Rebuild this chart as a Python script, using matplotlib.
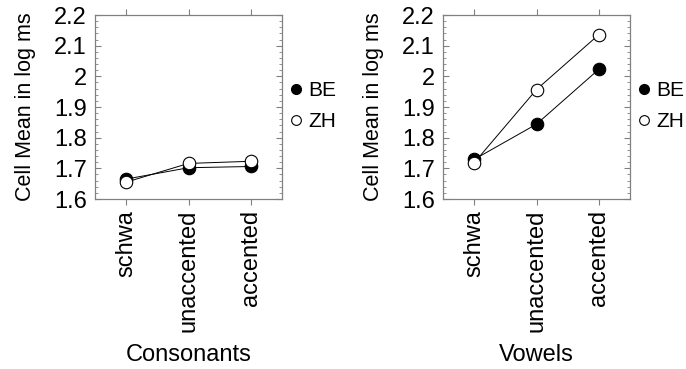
import matplotlib
matplotlib.use("Agg")
import matplotlib.pyplot as plt
from matplotlib.lines import Line2D
from matplotlib.ticker import MultipleLocator

categories = ["schwa", "unaccented", "accented"]
cons_BE = [1.665, 1.702, 1.706]
cons_ZH = [1.655, 1.716, 1.723]
vow_BE = [1.729, 1.844, 2.023]
vow_ZH = [1.718, 1.957, 2.136]
yticks = [1.6, 1.7, 1.8, 1.9, 2.0, 2.1, 2.2]
yticklabels = ["1.6", "1.7", "1.8", "1.9", "2", "2.1", "2.2"]

plt.rcParams['font.family'] = ['Liberation Sans', 'DejaVu Sans']
W, H = 686, 369
fig = plt.figure(figsize=(W/100, H/100), dpi=100)
FS = 17

def make(left_px, be, zh, xlabel):
    ax = fig.add_axes([left_px/W, (H-199)/H, 187/W, 184/H])
    x = range(len(categories))
    ax.plot(x, be, color='black', lw=0.7, marker='o', ms=9, mfc='black', mec='black', mew=0.8, zorder=3)
    ax.plot(x, zh, color='black', lw=0.7, marker='o', ms=9, mfc='white', mec='black', mew=0.8, zorder=4)
    ax.set_xlim(-0.5, 2.5)
    ax.set_ylim(1.6, 2.2)
    ax.set_xticks(list(x))
    ax.set_xticklabels(categories, rotation=90, fontsize=FS)
    ax.set_yticks(yticks)
    ax.set_yticklabels(yticklabels, fontsize=FS)
    ax.yaxis.set_minor_locator(MultipleLocator(0.02))
    for s in ax.spines.values():
        s.set_color('#808080')
        s.set_linewidth(0.9)
    ax.tick_params(axis='y', which='both', direction='in', left=True, right=True, color='#808080', pad=6)
    ax.tick_params(axis='y', which='major', length=4)
    ax.tick_params(axis='y', which='minor', length=2)
    ax.tick_params(axis='x', which='major', direction='out', length=4, color='#808080', top=True, pad=4)
    ax.set_ylabel("Cell Mean in log ms", fontsize=15.5, va='center', ha='center')
    ax.yaxis.set_label_coords(-70 / 187, 0.5)
    ax.set_xlabel(xlabel, fontsize=FS, va='center', ha='center')
    ax.xaxis.set_label_coords(0.5, (199 - 355) / 184)
    handles = [Line2D([], [], ls='none', marker='o', ms=7, mfc='black', mec='black'),
               Line2D([], [], ls='none', marker='o', ms=7, mfc='white', mec='black', mew=0.8)]
    ax.legend(handles, ["BE", "ZH"], loc='center left', bbox_to_anchor=(1.0, 0.505),
              frameon=False, fontsize=15, handlelength=0.5, handletextpad=0.35,
              labelspacing=0.55, borderaxespad=0.0)
    return ax

make(95, cons_BE, cons_ZH, "Consonants")
make(443, vow_BE, vow_ZH, "Vowels")

fig.savefig("out.png", dpi=100)
